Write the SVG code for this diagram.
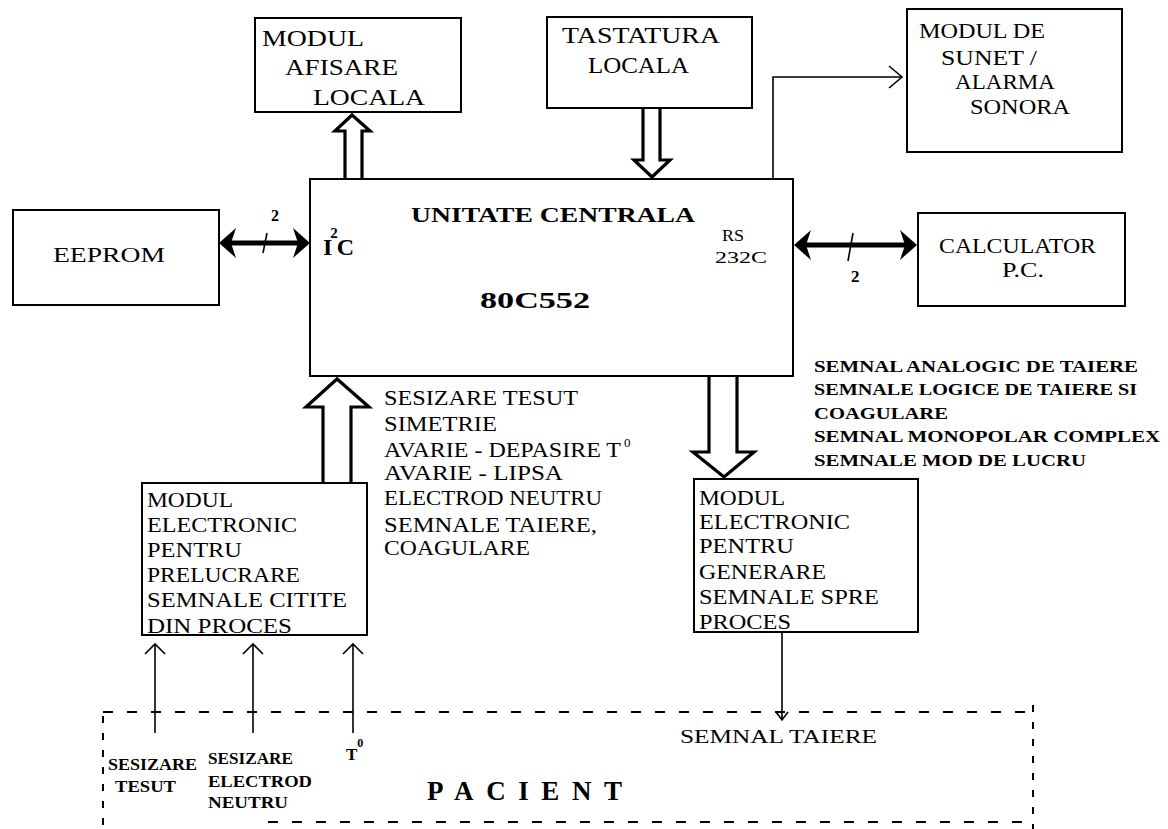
<svg xmlns="http://www.w3.org/2000/svg" width="1168" height="829" viewBox="0 0 1168 829">
<style>
.box{fill:none;stroke:#000;stroke-width:2}
.t{font-family:"Liberation Serif","Times New Roman",serif;fill:#000}
.b{font-weight:bold}
.hol{fill:none;stroke:#000;stroke-width:3.2;stroke-linejoin:miter}
.thin{fill:none;stroke:#000;stroke-width:1.6}
.thick{fill:none;stroke:#000;stroke-width:5}
.dash{fill:none;stroke:#000;stroke-width:2;stroke-dasharray:10 14}
.vdash{fill:none;stroke:#000;stroke-width:2;stroke-dasharray:7 10}
</style>
<rect width="1168" height="829" fill="#fff"/>

<g id="afisare">
<rect class="box" x="255" y="18" width="206" height="94"/>
<text class="t" font-size="24" x="262" y="46" textLength="102" lengthAdjust="spacingAndGlyphs">MODUL</text>
<text class="t" font-size="24" x="285" y="75" textLength="113" lengthAdjust="spacingAndGlyphs">AFISARE</text>
<text class="t" font-size="24" x="313" y="105" textLength="112" lengthAdjust="spacingAndGlyphs">LOCALA</text>
</g>

<g id="tastatura">
<rect class="box" x="547" y="17" width="205" height="91"/>
<text class="t" font-size="24" x="562" y="43" textLength="158" lengthAdjust="spacingAndGlyphs">TASTATURA</text>
<text class="t" font-size="24" x="588" y="73" textLength="101" lengthAdjust="spacingAndGlyphs">LOCALA</text>
</g>

<g id="sunet">
<rect class="box" x="907" y="9" width="215" height="143"/>
<text class="t" font-size="21" x="919" y="38" textLength="126" lengthAdjust="spacingAndGlyphs">MODUL DE</text>
<text class="t" font-size="21" x="941" y="65" textLength="96" lengthAdjust="spacingAndGlyphs">SUNET /</text>
<text class="t" font-size="21" x="955" y="89" textLength="100" lengthAdjust="spacingAndGlyphs">ALARMA</text>
<text class="t" font-size="21" x="970" y="114" textLength="100" lengthAdjust="spacingAndGlyphs">SONORA</text>
</g>

<g id="eeprom">
<rect class="box" x="13" y="210" width="206" height="95"/>
<text class="t" font-size="21" x="53" y="262" textLength="112" lengthAdjust="spacingAndGlyphs">EEPROM</text>
</g>

<g id="calculator">
<rect class="box" x="918" y="213" width="207" height="93"/>
<text class="t" font-size="20" x="939" y="253" textLength="157" lengthAdjust="spacingAndGlyphs">CALCULATOR</text>
<text class="t" font-size="20" x="1002" y="277" textLength="42" lengthAdjust="spacingAndGlyphs">P.C.</text>
</g>

<g id="cpu">
<rect class="box" x="310" y="179" width="483" height="197"/>
<text class="t b" font-size="22" x="411" y="222" textLength="284" lengthAdjust="spacingAndGlyphs">UNITATE CENTRALA</text>
<text class="t b" font-size="24" x="480" y="308" textLength="110" lengthAdjust="spacingAndGlyphs">80C552</text>
<text class="t b" font-size="24" x="323" y="255">I<tspan font-size="15" dy="-17" dx="-2">2</tspan><tspan dy="17" dx="-1">C</tspan></text>
<text class="t" font-size="17" x="722" y="241" textLength="22" lengthAdjust="spacingAndGlyphs">RS</text>
<text class="t" font-size="17" x="715" y="263" textLength="52" lengthAdjust="spacingAndGlyphs">232C</text>
</g>

<g id="prelucrare">
<rect class="box" x="142" y="483" width="225" height="152"/>
<text class="t" font-size="21" x="147" y="507" textLength="86" lengthAdjust="spacingAndGlyphs">MODUL</text>
<text class="t" font-size="21" x="147" y="532" textLength="150" lengthAdjust="spacingAndGlyphs">ELECTRONIC</text>
<text class="t" font-size="21" x="147" y="557" textLength="95" lengthAdjust="spacingAndGlyphs">PENTRU</text>
<text class="t" font-size="21" x="147" y="582" textLength="153" lengthAdjust="spacingAndGlyphs">PRELUCRARE</text>
<text class="t" font-size="21" x="147" y="607" textLength="200" lengthAdjust="spacingAndGlyphs">SEMNALE CITITE</text>
<text class="t" font-size="21" x="147" y="633" textLength="145" lengthAdjust="spacingAndGlyphs">DIN PROCES</text>
</g>

<g id="generare">
<rect class="box" x="694" y="479" width="224" height="153"/>
<text class="t" font-size="21" x="699" y="505" textLength="86" lengthAdjust="spacingAndGlyphs">MODUL</text>
<text class="t" font-size="21" x="699" y="529" textLength="151" lengthAdjust="spacingAndGlyphs">ELECTRONIC</text>
<text class="t" font-size="21" x="699" y="553" textLength="95" lengthAdjust="spacingAndGlyphs">PENTRU</text>
<text class="t" font-size="21" x="699" y="579" textLength="127" lengthAdjust="spacingAndGlyphs">GENERARE</text>
<text class="t" font-size="21" x="699" y="604" textLength="180" lengthAdjust="spacingAndGlyphs">SEMNALE SPRE</text>
<text class="t" font-size="21" x="699" y="629" textLength="92" lengthAdjust="spacingAndGlyphs">PROCES</text>
</g>

<g id="pacient">
<path class="dash" d="M103,712 H1030"/>
<path class="dash" d="M268,822 H1030"/>
<path class="vdash" d="M103,716 V829"/>
<path class="vdash" d="M1033,705 V829"/>
<text class="t b" font-size="27" x="427" y="800" textLength="195" lengthAdjust="spacing">PACIENT</text>
<text class="t" font-size="19" x="680" y="743" textLength="197" lengthAdjust="spacingAndGlyphs">SEMNAL  TAIERE</text>
<text class="t b" font-size="16" x="108" y="770" textLength="89" lengthAdjust="spacingAndGlyphs">SESIZARE</text>
<text class="t b" font-size="16" x="115" y="792" textLength="61" lengthAdjust="spacingAndGlyphs">TESUT</text>
<text class="t b" font-size="16" x="208" y="764" textLength="85" lengthAdjust="spacingAndGlyphs">SESIZARE</text>
<text class="t b" font-size="16" x="208" y="787" textLength="104" lengthAdjust="spacingAndGlyphs">ELECTROD</text>
<text class="t b" font-size="16" x="208" y="808" textLength="80" lengthAdjust="spacingAndGlyphs">NEUTRU</text>
<text class="t b" font-size="17" x="346" y="760">T<tspan font-size="12" dy="-13">0</tspan></text>
</g>

<g id="labels">
<text class="t" font-size="21" x="384" y="405" textLength="194" lengthAdjust="spacingAndGlyphs">SESIZARE TESUT</text>
<text class="t" font-size="21" x="384" y="431" textLength="113" lengthAdjust="spacingAndGlyphs">SIMETRIE</text>
<text class="t" font-size="21" x="384" y="457" textLength="237" lengthAdjust="spacingAndGlyphs">AVARIE - DEPASIRE T</text>
<text class="t" font-size="13" x="624" y="447">0</text>
<text class="t" font-size="21" x="384" y="480" textLength="179" lengthAdjust="spacingAndGlyphs">AVARIE - LIPSA</text>
<text class="t" font-size="21" x="384" y="505" textLength="218" lengthAdjust="spacingAndGlyphs">ELECTROD NEUTRU</text>
<text class="t" font-size="21" x="384" y="532" textLength="213" lengthAdjust="spacingAndGlyphs">SEMNALE TAIERE,</text>
<text class="t" font-size="21" x="384" y="555" textLength="146" lengthAdjust="spacingAndGlyphs">COAGULARE</text>
<text class="t b" font-size="17" x="814" y="372" textLength="324" lengthAdjust="spacingAndGlyphs">SEMNAL ANALOGIC DE TAIERE</text>
<text class="t b" font-size="17" x="814" y="395" textLength="323" lengthAdjust="spacingAndGlyphs">SEMNALE LOGICE DE TAIERE SI</text>
<text class="t b" font-size="17" x="814" y="419" textLength="134" lengthAdjust="spacingAndGlyphs">COAGULARE</text>
<text class="t b" font-size="17" x="814" y="442" textLength="346" lengthAdjust="spacingAndGlyphs">SEMNAL MONOPOLAR COMPLEX</text>
<text class="t b" font-size="17" x="814" y="466" textLength="272" lengthAdjust="spacingAndGlyphs">SEMNALE MOD DE LUCRU</text>
</g>

<g id="connectors">
<path class="hol" d="M345,179 V131 H335 L352,115 L370,131 H362 V179"/>
<path class="hol" d="M643,108 V160 H634 L652,177 L670,160 H660 V108"/>
<path class="hol" d="M323,483 V407 H306 L337,379 L369,407 H351 V483"/>
<path class="hol" d="M709,376 V452 H693 L724,477 L754,452 H737 V376"/>
<path class="thin" d="M773,179 V77 H902"/>
<path class="thin" d="M889,66 L902,77 L889,88"/>
<path class="thick" d="M228,243 H302"/>
<path d="M219,243 L236,228 L231,243 L236,258 Z" fill="#000"/>
<path d="M310,243 L293,228 L298,243 L293,258 Z" fill="#000"/>
<path class="thin" d="M263,253 L267,233"/>
<text class="t b" font-size="16" x="271" y="221">2</text>
<path class="thick" d="M803,245 H909"/>
<path d="M794,245 L811,230 L806,245 L811,260 Z" fill="#000"/>
<path d="M917,245 L900,230 L905,245 L900,260 Z" fill="#000"/>
<path class="thin" d="M848,261 L853,233"/>
<text class="t b" font-size="17" x="851" y="282">2</text>
<path class="thin" d="M155,733 V644 M145,654 L155,644 L165,654"/>
<path class="thin" d="M253,733 V644 M243,654 L253,644 L263,654"/>
<path class="thin" d="M353,733 V644 M343,654 L353,644 L363,654"/>
<path class="thin" d="M782,632 V720 M776,712 L782,720 L788,712"/>
</g>
</svg>
